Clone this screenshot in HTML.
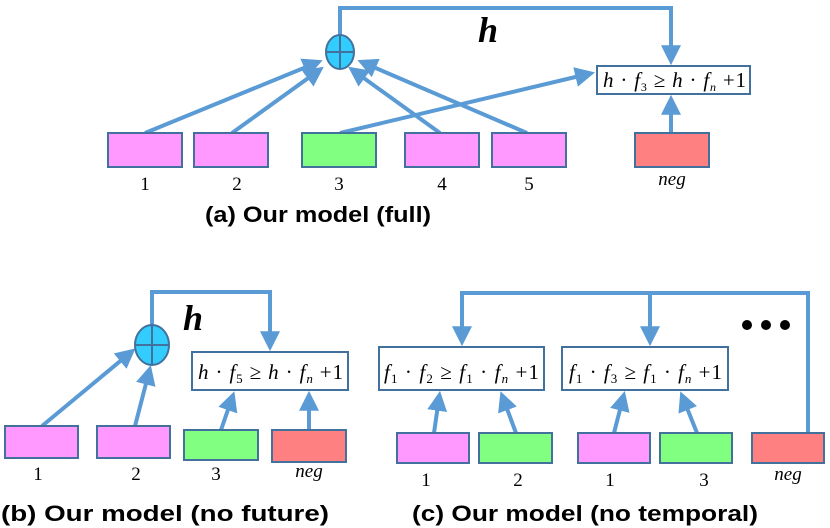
<!DOCTYPE html>
<html><head><meta charset="utf-8"><style>
html,body{margin:0;padding:0;background:#fff;}
svg{display:block}
.m{font-family:"Liberation Serif",serif;font-size:21px;fill:#000}
.n{font-family:"Liberation Serif",serif;font-size:19px;fill:#000}
.cap{font-family:"Liberation Sans",sans-serif;font-weight:bold;font-size:22px;fill:#000}
</style></head><body>
<svg width="830" height="528" viewBox="0 0 830 528" xmlns="http://www.w3.org/2000/svg">
<defs>
<marker id="a" markerWidth="5" markerHeight="5" refX="3.2" refY="2.5" orient="auto" markerUnits="strokeWidth">
<path d="M0,0 L5,2.5 L0,5 Z" fill="#5b9bd5"/></marker>
</defs>
<g stroke="#5b9bd5" stroke-width="4" fill="none">
<polyline points="340,36 340,8 671,8 671,58" marker-end="url(#a)"/>
<line x1="145" y1="133" x2="316" y2="63" marker-end="url(#a)"/>
<line x1="232" y1="133" x2="318" y2="71" marker-end="url(#a)"/>
<line x1="440" y1="133" x2="354" y2="71" marker-end="url(#a)"/>
<line x1="527" y1="133" x2="364" y2="63" marker-end="url(#a)"/>
<line x1="340" y1="133" x2="588" y2="74" marker-end="url(#a)"/>
<line x1="671" y1="133" x2="671" y2="102" marker-end="url(#a)"/>
<polyline points="152,327 152,292 270,292 270,344" marker-end="url(#a)"/>
<line x1="42" y1="426" x2="130" y2="353" marker-end="url(#a)"/>
<line x1="135" y1="426" x2="149" y2="372" marker-end="url(#a)"/>
<line x1="221" y1="430" x2="232" y2="398" marker-end="url(#a)"/>
<line x1="309" y1="430" x2="309" y2="398" marker-end="url(#a)"/>
<polyline points="462,341 462,293 808,293 808,433"/>
<line x1="650" y1="293" x2="650" y2="339" marker-end="url(#a)"/>
<line x1="462" y1="320" x2="462" y2="339" marker-end="url(#a)"/>
<line x1="434" y1="433" x2="439" y2="398" marker-end="url(#a)"/>
<line x1="516" y1="433" x2="503" y2="398" marker-end="url(#a)"/>
<line x1="614" y1="433" x2="623" y2="398" marker-end="url(#a)"/>
<line x1="697" y1="433" x2="683" y2="398" marker-end="url(#a)"/>
</g>
<g stroke="#41719c" stroke-width="2">
<rect x="108" y="133" width="74" height="34" fill="#ff99ff"/>
<rect x="194" y="133" width="74" height="34" fill="#ff99ff"/>
<rect x="302" y="133" width="74" height="34" fill="#80ff80"/>
<rect x="405" y="133" width="74" height="34" fill="#ff99ff"/>
<rect x="492" y="133" width="74" height="34" fill="#ff99ff"/>
<rect x="635" y="133" width="74" height="34" fill="#ff8080"/>
<rect x="597" y="66" width="153" height="28" fill="#fff"/>
<ellipse cx="340" cy="52" rx="14" ry="17" fill="#33ccff"/>
<line x1="326" y1="52" x2="354" y2="52"/><line x1="340" y1="35" x2="340" y2="69"/>
<rect x="5" y="426" width="73" height="32" fill="#ff99ff"/>
<rect x="97" y="426" width="73" height="32" fill="#ff99ff"/>
<rect x="184" y="430" width="74" height="30" fill="#80ff80"/>
<rect x="272" y="430" width="74" height="32" fill="#ff8080"/>
<rect x="192" y="352" width="156" height="38" fill="#fff"/>
<ellipse cx="152" cy="345" rx="17" ry="20" fill="#33ccff"/>
<line x1="135" y1="345" x2="169" y2="345"/><line x1="152" y1="325" x2="152" y2="365"/>
<rect x="379" y="347" width="165" height="43" fill="#fff"/>
<rect x="562" y="347" width="166" height="43" fill="#fff"/>
<rect x="397" y="433" width="72" height="30" fill="#ff99ff"/>
<rect x="479" y="433" width="73" height="30" fill="#80ff80"/>
<rect x="578" y="433" width="72" height="30" fill="#ff99ff"/>
<rect x="660" y="433" width="72" height="30" fill="#80ff80"/>
<rect x="752" y="433" width="72" height="30" fill="#ff8080"/>
</g>
<circle cx="747" cy="325" r="5"/><circle cx="766" cy="325" r="5"/><circle cx="785" cy="325" r="5"/>
<text x="478" y="42" font-family="Liberation Serif,serif" font-style="italic" font-weight="bold" font-size="36">h</text>
<text x="183" y="330" font-family="Liberation Serif,serif" font-style="italic" font-weight="bold" font-size="36">h</text>
<text x="603" y="87" class="m" font-size="19" textLength="143" lengthAdjust="spacing"><tspan font-style="italic">h</tspan> · <tspan font-style="italic">f</tspan><tspan font-size="12" dy="4">3</tspan><tspan dy="-4"> ≥ </tspan><tspan font-style="italic">h</tspan> · <tspan font-style="italic">f</tspan><tspan font-size="12" font-style="italic" dy="4">n</tspan><tspan dy="-4"> +1</tspan></text>
<text x="198" y="379" class="m" textLength="145" lengthAdjust="spacing"><tspan font-style="italic">h</tspan> · <tspan font-style="italic">f</tspan><tspan font-size="13" dy="4">5</tspan><tspan dy="-4"> ≥ </tspan><tspan font-style="italic">h</tspan> · <tspan font-style="italic">f</tspan><tspan font-size="13" font-style="italic" dy="4">n</tspan><tspan dy="-4"> +1</tspan></text>
<text x="384" y="379" class="m" font-size="22" textLength="155" lengthAdjust="spacing"><tspan font-style="italic">f</tspan><tspan font-size="13" dy="4">1</tspan><tspan dy="-4"> · </tspan><tspan font-style="italic">f</tspan><tspan font-size="13" dy="4">2</tspan><tspan dy="-4"> ≥ </tspan><tspan font-style="italic">f</tspan><tspan font-size="13" dy="4">1</tspan><tspan dy="-4"> · </tspan><tspan font-style="italic">f</tspan><tspan font-size="13" font-style="italic" dy="4">n</tspan><tspan dy="-4"> +1</tspan></text>
<text x="569" y="379" class="m" font-size="22" textLength="153" lengthAdjust="spacing"><tspan font-style="italic">f</tspan><tspan font-size="13" dy="4">1</tspan><tspan dy="-4"> · </tspan><tspan font-style="italic">f</tspan><tspan font-size="13" dy="4">3</tspan><tspan dy="-4"> ≥ </tspan><tspan font-style="italic">f</tspan><tspan font-size="13" dy="4">1</tspan><tspan dy="-4"> · </tspan><tspan font-style="italic">f</tspan><tspan font-size="13" font-style="italic" dy="4">n</tspan><tspan dy="-4"> +1</tspan></text>
<g class="n" text-anchor="middle">
<text x="145" y="190">1</text><text x="237" y="190">2</text><text x="339" y="190">3</text><text x="442" y="190">4</text><text x="529" y="190">5</text>
<text x="672" y="185" font-style="italic">neg</text>
<text x="38" y="480">1</text><text x="136" y="480">2</text><text x="216" y="480">3</text><text x="309" y="477" font-style="italic">neg</text>
<text x="426" y="486">1</text><text x="518" y="486">2</text><text x="610" y="486">1</text><text x="704" y="486">3</text><text x="788" y="480" font-style="italic">neg</text>
</g>
<g class="cap" text-anchor="middle">
<text x="318" y="222" textLength="226" lengthAdjust="spacingAndGlyphs">(a) Our model (full)</text>
<text x="165" y="521" textLength="328" lengthAdjust="spacingAndGlyphs">(b) Our model (no future)</text>
<text x="585" y="521" textLength="346" lengthAdjust="spacingAndGlyphs">(c) Our model (no temporal)</text>
</g>
</svg>
</body></html>
